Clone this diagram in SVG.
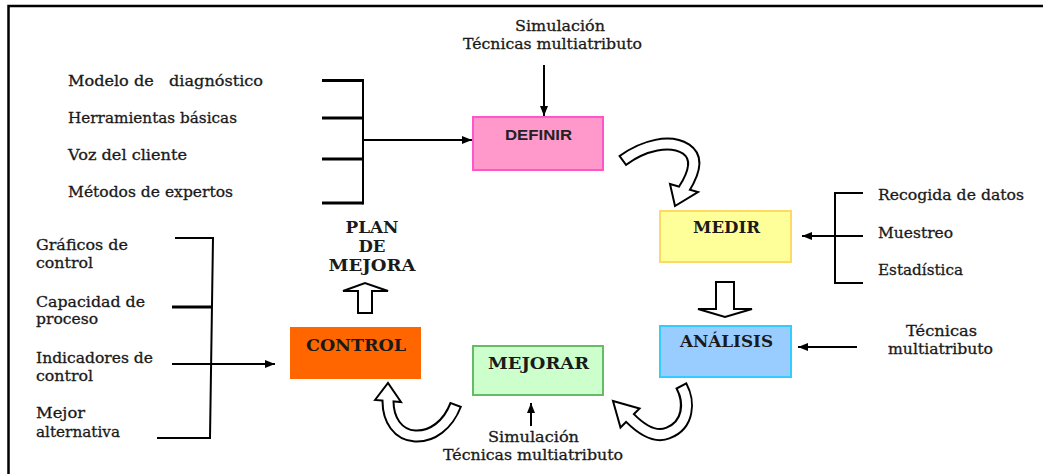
<svg xmlns="http://www.w3.org/2000/svg" width="1043" height="474" viewBox="0 0 1043 474">
  <style>
    .lbl { font-family: "DejaVu Serif", "Liberation Serif", serif; font-size: 15px; fill: #1a1a1a; stroke: #1a1a1a; stroke-width: 0.3; white-space: pre; }
    .mid { text-anchor: middle; }
    .ttl { font-family: "DejaVu Serif", "Liberation Serif", serif; font-weight: bold; font-size: 16px; fill: #1a1a1a; text-anchor: middle; }
    .sans { font-family: "Liberation Sans", Arial, sans-serif; font-weight: bold; font-size: 14.5px; fill: #222; text-anchor: middle; }
    .ln { stroke: #000; stroke-width: 2; fill: none; }
    .tk { stroke: #000; stroke-width: 3; fill: none; }
    .hollow { fill: #fff; stroke: #000; stroke-width: 2; stroke-linejoin: miter; }
    .shaft-o { fill: none; stroke: #000; stroke-width: 13; stroke-linecap: butt; }
    .shaft-i { fill: none; stroke: #fff; stroke-width: 9; stroke-linecap: butt; }
  </style>
  <defs>
    <marker id="ah" markerUnits="userSpaceOnUse" markerWidth="10" markerHeight="8" refX="10" refY="4" orient="auto">
      <path d="M0,0 L10,4 L0,8 z" fill="#000"/>
    </marker>
  </defs>

  <rect width="1043" height="474" fill="#fff"/>
  <!-- frame -->
  <path d="M8.5,474 V6 H1043" fill="none" stroke="#000" stroke-width="2.5"/>

  <!-- process steps -->
  <g id="node-definir">
    <rect x="473" y="117" width="130" height="53" fill="#ff99cc" stroke="#ff55cc" stroke-width="2"/>
    <text class="sans" x="538.5" y="140" textLength="67" lengthAdjust="spacingAndGlyphs">DEFINIR</text>
  </g>
  <g id="node-medir">
    <rect x="660" y="211" width="131" height="51" fill="#ffff99" stroke="#ffd966" stroke-width="2"/>
    <text class="ttl" x="726.5" y="233" textLength="67" lengthAdjust="spacingAndGlyphs">MEDIR</text>
  </g>
  <g id="node-analisis">
    <rect x="660" y="326" width="131" height="51" fill="#99ccff" stroke="#33ccff" stroke-width="2"/>
    <text class="ttl" x="726.5" y="347" textLength="93" lengthAdjust="spacingAndGlyphs">ANÁLISIS</text>
  </g>
  <g id="node-mejorar">
    <rect x="473" y="346" width="130" height="49" fill="#ccffcc" stroke="#66bb66" stroke-width="2"/>
    <text class="ttl" x="538.5" y="369" textLength="101" lengthAdjust="spacingAndGlyphs">MEJORAR</text>
  </g>
  <g id="node-control">
    <rect x="290" y="327" width="131" height="52" fill="#ff6600"/>
    <text class="ttl" x="356" y="351" textLength="100" lengthAdjust="spacingAndGlyphs">CONTROL</text>
  </g>
  <g id="node-plan">
    <text class="ttl" x="372" y="233" textLength="53" lengthAdjust="spacingAndGlyphs">PLAN</text>
    <text class="ttl" x="372" y="252" textLength="27" lengthAdjust="spacingAndGlyphs">DE</text>
    <text class="ttl" x="372" y="271" textLength="87" lengthAdjust="spacingAndGlyphs">MEJORA</text>
  </g>

  <!-- inputs to each step -->
  <g id="inputs-definir-top">
    <text class="lbl mid" x="560" y="31" textLength="90" lengthAdjust="spacingAndGlyphs">Simulación</text>
    <text class="lbl mid" x="552.5" y="49" textLength="179" lengthAdjust="spacingAndGlyphs">Técnicas multiatributo</text>
  </g>
  <g id="inputs-definir-left">
    <text class="lbl" x="68" y="86" textLength="195" lengthAdjust="spacingAndGlyphs" xml:space="preserve">Modelo de   diagnóstico</text>
    <text class="lbl" x="68" y="123" textLength="169" lengthAdjust="spacingAndGlyphs">Herramientas básicas</text>
    <text class="lbl" x="68" y="160" textLength="119" lengthAdjust="spacingAndGlyphs">Voz del cliente</text>
    <text class="lbl" x="68" y="197" textLength="165" lengthAdjust="spacingAndGlyphs">Métodos de expertos</text>
  </g>
  <g id="inputs-medir">
    <text class="lbl" x="878" y="200" textLength="146" lengthAdjust="spacingAndGlyphs">Recogida de datos</text>
    <text class="lbl" x="878" y="238" textLength="75" lengthAdjust="spacingAndGlyphs">Muestreo</text>
    <text class="lbl" x="878" y="275" textLength="85" lengthAdjust="spacingAndGlyphs">Estadística</text>
  </g>
  <g id="inputs-analisis">
    <text class="lbl mid" x="941.5" y="336" textLength="71" lengthAdjust="spacingAndGlyphs">Técnicas</text>
    <text class="lbl mid" x="940.5" y="354" textLength="105" lengthAdjust="spacingAndGlyphs">multiatributo</text>
  </g>
  <g id="inputs-mejorar">
    <text class="lbl mid" x="533.5" y="442" textLength="91" lengthAdjust="spacingAndGlyphs">Simulación</text>
    <text class="lbl mid" x="533" y="460" textLength="180" lengthAdjust="spacingAndGlyphs">Técnicas multiatributo</text>
  </g>
  <g id="inputs-control">
    <text class="lbl" x="36" y="250" textLength="92" lengthAdjust="spacingAndGlyphs">Gráficos de</text>
    <text class="lbl" x="36" y="268" textLength="57" lengthAdjust="spacingAndGlyphs">control</text>
    <text class="lbl" x="36" y="307" textLength="109" lengthAdjust="spacingAndGlyphs">Capacidad de</text>
    <text class="lbl" x="36" y="324" textLength="62" lengthAdjust="spacingAndGlyphs">proceso</text>
    <text class="lbl" x="36" y="363" textLength="117" lengthAdjust="spacingAndGlyphs">Indicadores de</text>
    <text class="lbl" x="36" y="381" textLength="57" lengthAdjust="spacingAndGlyphs">control</text>
    <text class="lbl" x="36" y="418" textLength="49" lengthAdjust="spacingAndGlyphs">Mejor</text>
    <text class="lbl" x="36" y="437" textLength="84" lengthAdjust="spacingAndGlyphs">alternativa</text>
  </g>

  <g id="connectors">
    <!-- plain input arrows -->
    <line class="ln" x1="544" y1="65" x2="544" y2="116" marker-end="url(#ah)"/>
    <line class="ln" x1="531" y1="426" x2="531" y2="403" marker-end="url(#ah)"/>
    <line class="ln" x1="857" y1="347" x2="798" y2="347" marker-end="url(#ah)"/>

    <!-- DEFINIR bracket -->
    <path class="tk" d="M322,80.5 H363 M322,118 H363 M322,159 H363 M322,203 H363"/>
    <path class="ln" d="M363,79 V204.5"/>
    <line class="ln" x1="363" y1="140" x2="472" y2="140" marker-end="url(#ah)"/>

    <!-- MEDIR bracket -->
    <path class="ln" d="M863,193 H835 V283 H863"/>
    <line class="ln" x1="863" y1="236" x2="802" y2="236" marker-end="url(#ah)"/>

    <!-- CONTROL bracket -->
    <path class="ln" d="M175,238 H213 L210,438 H157"/>
    <path class="tk" d="M172,307 H211"/>
    <line class="ln" x1="172" y1="364" x2="275" y2="364" marker-end="url(#ah)"/>

    <!-- straight hollow arrows -->
    <path class="hollow" d="M358,313 V291 H343 L365,283 L388,291 H372 V313 Z"/>
    <path class="hollow" d="M716,282 H734 V309 H752 L725,317 L698,309 H716 Z"/>

    <!-- curved hollow arrow: DEFINIR to MEDIR -->
    <path class="shaft-o" d="M622,161 C644,145 670,139 686,149 C701,159 691,178 684,189"/>
    <path class="hollow" d="M670,184 L698,192 L675,206 Z"/>
    <path class="shaft-i" d="M623.6,159.8 C644,145 670,139 686,149 C701,159 691,178 684,189 L682.6,191.6"/>

    <!-- curved hollow arrow: ANÁLISIS to MEJORAR -->
    <path class="shaft-o" d="M681,385 C690,402 689,425 668,433 C656,438 642,430 630,418"/>
    <path class="hollow" d="M639.5,408.5 L613,401 L620.5,427.5 Z"/>
    <path class="shaft-i" d="M681.9,386.8 C690,402 689,425 668,433 C656,438 642,430 630,418 L627.9,415.9"/>

    <!-- curved hollow arrow: MEJORAR to CONTROL -->
    <path class="shaft-o" d="M456,404 C448,425 432,437 415,436 C398,435 388,420 388,401"/>
    <path class="hollow" d="M375,400 L388,383 L401,402 Z"/>
    <path class="shaft-i" d="M455.3,405.9 C448,425 432,437 415,436 C398,435 388,420 388,401 L388,398"/>
  </g>
</svg>
